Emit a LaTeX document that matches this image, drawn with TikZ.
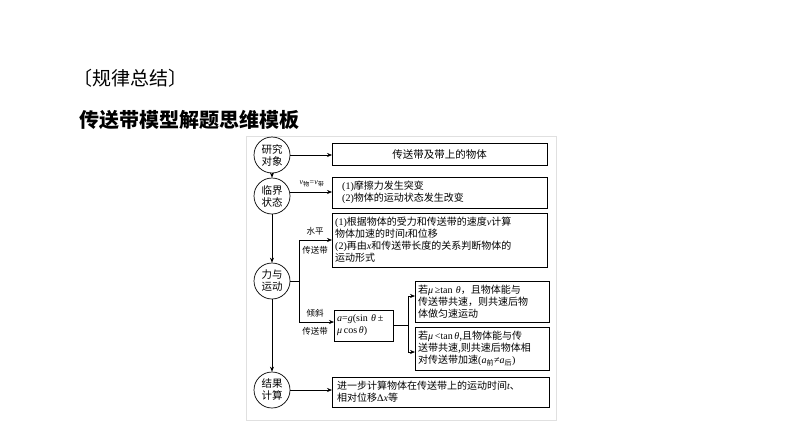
\documentclass[tikz,border=0pt]{standalone}
\usepackage{fontspec}
\setmainfont{Liberation Serif}
\newfontfamily\cjk{Noto Sans CJK SC}
\newcommand{\lt}[1]{{\rmfamily #1}}
\newcommand{\li}[1]{{\rmfamily\itshape #1}}
\usetikzlibrary{arrows.meta}
\begin{document}
\begin{tikzpicture}[x=1pt,y=-1pt,
 circ/.style={draw,circle,minimum size=36pt,inner sep=0pt,align=center,font=\cjk\fontsize{10.5}{12}\selectfont,line width=0.7pt},
 bx/.style={draw,line width=0.7pt},
 txt/.style={font=\cjk\fontsize{10}{12}\selectfont,align=left,anchor=west,inner sep=0pt},
 ar/.style={-{Stealth[length=5pt,width=4pt]},line width=0.6pt},
 ln/.style={line width=0.6pt},
 lab/.style={font=\cjk\fontsize{8.5}{9}\selectfont,inner sep=1pt}]
\useasboundingbox (0,0) rectangle (794,447);
\fill[white] (0,0) rectangle (794,447);
\draw[black!12,line width=1pt] (246,136) rectangle (556,420);
\node[anchor=west,font=\cjk\fontsize{19}{22}\selectfont] (t1) at (70,78) {〔规律总结〕};
\node[anchor=west,font=\cjk\bfseries\fontsize{20}{24}\selectfont] (t2) at (76,120) {传送带模型解题思维模板};
\node[circ] (c1) at (272,155) {研究\\对象};
\node[circ] (c2) at (272,196) {临界\\状态};
\node[circ] (c3) at (272,281) {力与\\运动};
\node[circ] (c4) at (272,390) {结果\\计算};
\draw[bx] (332,143) rectangle (547,165); \node[font=\cjk\fontsize{10.5}{11}\selectfont] (b1) at (439.5,154) {传送带及带上的物体};
\draw[bx] (332,177) rectangle (547,208); \node[txt] (b2) at (342,192.5) {\lt{(1)}摩擦力发生突变\\\lt{(2)}物体的运动状态发生改变};
\draw[bx] (332,213) rectangle (547,267); \node[txt] (b3) at (335,240) {\lt{(1)}根据物体的受力和传送带的速度\li{v}计算\\物体加速的时间\li{t}和位移\\\lt{(2)}再由\li{x}和传送带长度的关系判断物体的\\运动形式};
\draw[bx] (334,310) rectangle (393,341); \node[txt] (bm) at (337,325.5) {\lt{\textit{a}=\textit{g}(sin\,\,\textit{θ}\,±}\\ \lt{\textit{μ}\,cos\,\textit{θ})}};
\draw[bx] (415,281) rectangle (549,322); \node[txt] (b4) at (418,301.5) {若\lt{\textit{μ}\,≥tan\,\,\textit{θ}}，且物体能与\\传送带共速，则共速后物\\体做匀速运动};
\draw[bx] (415,327) rectangle (549,370); \node[txt] (b5) at (418,348.5) {若\lt{\textit{μ}\,<tan\,\textit{θ}},且物体能与传\\送带共速,则共速后物体相\\对传送带加速\lt{(\textit{a}}\textsubscript{\cjk 前}\lt{≠\textit{a}}\textsubscript{\cjk 后}\lt{)}};
\draw[bx] (332,377) rectangle (549,407); \node[txt] (b6) at (337,392) {进一步计算物体在传送带上的运动时间\li{t}、\\相对位移\lt{Δ\textit{x}}等};
\draw[ar] (c1) -- (c2); \draw[ar] (c2) -- (c3); \draw[ar] (c3) -- (c4);
\draw[ar] (c1.east) -- (332,155);
\draw[ar] (c2.east|-0,192) -- (332,192);
\node[lab,font=\fontsize{8}{9}\selectfont] (vl) at (312,184) {\textit{v}\textsubscript{\cjk 物}=\textit{v}\textsubscript{\cjk 带}};
\coordinate (j) at (299,281);
\draw[ln] (c3.east) -- (j);
\draw[ar] (j) |- (332,240);
\draw[ar] (j) |- (334,322);
\node[lab] (l1) at (315,231) {水平}; \node[lab] (l2) at (315,250) {传送带};
\node[lab] (l3) at (315,313) {倾斜}; \node[lab] (l4) at (315,331) {传送带};
\coordinate (k) at (408,325);
\draw[ln] (393,325) -- (k);
\draw[ar] (k) |- (415,296);
\draw[ar] (k) |- (415,352);
\draw[ar] (c4.east) -- (332,390);
\end{tikzpicture}
\end{document}
